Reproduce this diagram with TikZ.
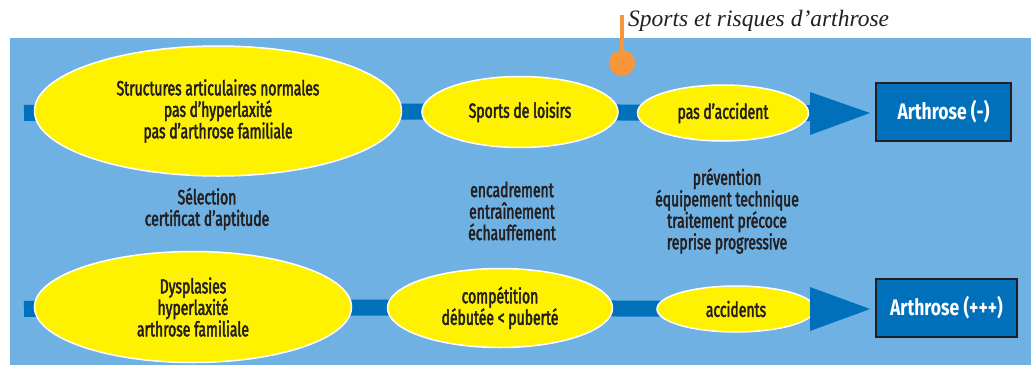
\documentclass[tikz,border=0pt]{standalone}
\usepackage{fontspec}
\setmainfont{Fira Sans}[FakeStretch=0.68]
\newfontfamily\labelfont{Fira Sans}[FakeStretch=0.68, FakeBold=2.2]
\newfontfamily\boxfont{Fira Sans}[FakeStretch=0.78]
\newfontfamily\titlefont{Liberation Serif}
\usetikzlibrary{shapes.geometric,backgrounds}

\definecolor{skyblue}{HTML}{6EB1E2}
\definecolor{barblue}{HTML}{0070BA}
\definecolor{lemon}{HTML}{FFF200}
\definecolor{ink}{HTML}{231F20}
\definecolor{tangerine}{HTML}{F7963A}

\tikzset{
  oval/.style={ellipse, fill=lemon, draw=white, line width=1.5pt, inner sep=0pt,
    align=center, text=ink, font=\labelfont\fontsize{20.5}{21.5}\selectfont},
  note/.style={align=center, text=ink, inner sep=0pt,
    font=\labelfont\fontsize{20.5}{21.5}\selectfont},
  result/.style={rectangle, fill=barblue, draw=ink, line width=1.6pt, inner sep=0pt,
    text=white, font=\boxfont\bfseries\fontsize{22.5}{24}\selectfont},
  bar/.style={barblue, line width=16pt},
  head/.style={fill=barblue},
}

\begin{document}
\begin{tikzpicture}[x=1pt, y=-1pt]
  \useasboundingbox (0,0) rectangle (1036,365);

  % title and marker
  \node[anchor=base west, inner sep=0pt, text=ink,
        font=\titlefont\itshape\fontsize{23.5}{25}\selectfont] (title) at (628,26)
        {Sports et risques d’arthrose};
  \coordinate (pin top) at (622,15);
  \node[circle, fill=tangerine, minimum size=26pt, inner sep=0pt] (pin) at (622,63) {};
  \draw[tangerine, line width=3.5pt] (pin top) -- (pin.center);

  % upper chain
  \node[oval, minimum width=367pt, minimum height=130pt] (n1) at (218,111)
    {Structures articulaires normales\\pas d’hyperlaxité\\pas d’arthrose familiale};
  \node[oval, minimum width=196pt, minimum height=71pt] (n2) at (520,112) {Sports de loisirs};
  \node[oval, minimum width=171pt, minimum height=56pt] (n3) at (723,113) {pas d’accident};
  \node[result, minimum width=135pt, minimum height=58pt] (r1) at (943.5,112) {Arthrose (-)};
  \coordinate (s1) at (24,113);
  \coordinate (h1) at (811,113);

  % lower chain
  \node[oval, minimum width=317pt, minimum height=111pt] (d1) at (193,307)
    {Dysplasies\\hyperlaxité\\arthrose familiale};
  \node[oval, minimum width=225pt, minimum height=79pt] (d2) at (500,308)
    {compétition\\débutée < puberté};
  \node[oval, minimum width=158pt, minimum height=46pt] (d3) at (736,309) {accidents};
  \node[result, minimum width=141pt, minimum height=58pt] (r2) at (946.5,308) {Arthrose (+++)};
  \coordinate (s2) at (24,309);
  \coordinate (h2) at (811,309);

  % notes between the chains
  \node[note] (sel) at (207,209) {Sélection\\certificat d’aptitude};
  \node[note] (enc) at (512,211) {encadrement\\entraînement\\échauffement};
  \node[note] (prev) at (727,211) {prévention\\équipement technique\\traitement précoce\\reprise progressive};

  % arrow heads
  \fill[head] (810,92) -- (870,113) -- (810,135) -- cycle;
  \fill[head] (810,287) -- (870,309) -- (810,331) -- cycle;

  \begin{pgfonlayer}{background}
    \fill[skyblue] (10,38) rectangle (1031,365);
    \draw[bar] (s1) -- (n1.center) -- (n2.center) -- (n3.center) -- (h1);
    \draw[bar] (s2) -- (d1.center) -- (d2.center) -- (d3.center) -- (h2);
  \end{pgfonlayer}
\end{tikzpicture}
\end{document}
